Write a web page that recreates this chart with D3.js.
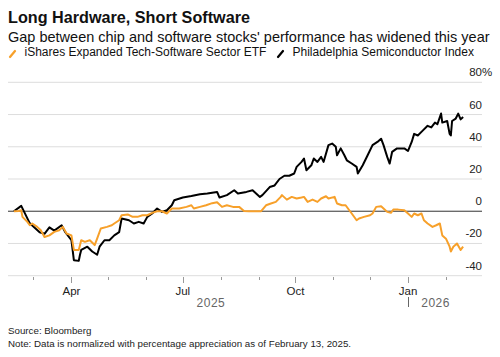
<!DOCTYPE html>
<html>
<head>
<meta charset="utf-8">
<script src="https://cdn.jsdelivr.net/npm/d3@7"></script>
<style>
  body { margin: 0; background: #fff; }
  text { font-family: "Liberation Sans", Arial, sans-serif; }
</style>
</head>
<body>
<svg id="chart" width="500" height="357"></svg>
<script>
// iShares Expanded Tech-Software Sector ETF (orange)
const softDates = ["2025-02-13","2025-02-17","2025-02-19","2025-02-20","2025-02-24","2025-02-26","2025-02-28","2025-03-04","2025-03-07","2025-03-10",
  "2025-03-14","2025-03-18","2025-03-22","2025-03-25","2025-03-28","2025-04-01","2025-04-03","2025-04-07","2025-04-09","2025-04-12",
  "2025-04-16","2025-04-20","2025-04-22","2025-04-25","2025-04-30","2025-05-04","2025-05-06","2025-05-10","2025-05-12","2025-05-17",
  "2025-05-21","2025-05-25","2025-05-29","2025-06-02","2025-06-06","2025-06-10","2025-06-14","2025-06-18","2025-06-22","2025-06-28",
  "2025-07-04","2025-07-08","2025-07-10","2025-07-15","2025-07-20","2025-07-25","2025-07-29","2025-08-02","2025-08-06","2025-08-11",
  "2025-08-16","2025-08-20","2025-08-24","2025-09-03","2025-09-07","2025-09-11","2025-09-15","2025-09-19","2025-09-20","2025-09-24",
  "2025-09-28","2025-10-02","2025-10-06","2025-10-08","2025-10-11","2025-10-15","2025-10-19","2025-10-22","2025-10-26","2025-10-28",
  "2025-11-02","2025-11-04","2025-11-08","2025-11-11","2025-11-14","2025-11-16","2025-11-20","2025-11-22","2025-11-26","2025-12-01",
  "2025-12-03","2025-12-06","2025-12-10","2025-12-12","2025-12-15","2025-12-18","2025-12-20","2025-12-24","2025-12-29","2026-01-01",
  "2026-01-04","2026-01-06","2026-01-09","2026-01-12","2026-01-14","2026-01-17","2026-01-21","2026-01-24","2026-01-27","2026-01-29",
  "2026-02-01","2026-02-04","2026-02-05","2026-02-07","2026-02-10","2026-02-13","2026-02-15"];
const softValues = [0,0.2,0.6,-3.5,-6.6,-8.7,-7.6,-9.7,-11.8,-16,
  -15,-12.8,-11.8,-9.7,-13.8,-15,-24,-24,-18,-19,
  -18,-21,-17,-10.7,-9.7,-8.7,-7.6,-5.6,-2.5,-2,
  -3.5,-3.5,-2.5,-2.5,-1,0,0,-1.4,1.7,1.7,
  2.7,3.7,1.7,2.7,3.7,5,5.6,2.7,3.7,2.7,
  2.7,0.2,0,0,3.7,4.8,5.8,8.9,10,7.2,
  8.9,7.9,8.5,8.9,5.8,7.2,5.8,7.9,9.3,7.9,
  8.9,4.8,3.7,3.7,0.6,-1.4,-5.6,-4.5,-3.5,-2.5,
  -1.4,2.7,3.1,1.7,-0.4,-1,1,1,0.6,-1.4,
  -3.5,-1.4,-2.5,-1.4,-5.6,-7.6,-9.7,-8.7,-7.6,-15,
  -17,-22,-25,-22,-20,-24,-22];

// Philadelphia Semiconductor Index (black)
const chipDates = ["2025-02-13","2025-02-19","2025-02-26","2025-03-06","2025-03-10","2025-03-14","2025-03-18","2025-03-24","2025-03-27","2025-04-01",
  "2025-04-03","2025-04-07","2025-04-08","2025-04-09","2025-04-14","2025-04-18","2025-04-22","2025-04-24","2025-04-28","2025-05-02",
  "2025-05-06","2025-05-10","2025-05-12","2025-05-18","2025-05-22","2025-05-26","2025-05-30","2025-06-02","2025-06-06","2025-06-10",
  "2025-06-14","2025-06-18","2025-06-22","2025-06-24","2025-07-01","2025-07-08","2025-07-15","2025-07-21","2025-07-29","2025-07-31",
  "2025-08-06","2025-08-12","2025-08-15","2025-08-22","2025-08-27","2025-09-02","2025-09-04","2025-09-10","2025-09-14","2025-09-18",
  "2025-09-22","2025-09-26","2025-09-30","2025-10-02","2025-10-06","2025-10-08","2025-10-10","2025-10-14","2025-10-16","2025-10-19",
  "2025-10-22","2025-10-24","2025-10-28","2025-10-31","2025-11-03","2025-11-04","2025-11-07","2025-11-10","2025-11-12","2025-11-16",
  "2025-11-20","2025-11-21","2025-11-25","2025-11-29","2025-12-03","2025-12-07","2025-12-10","2025-12-12","2025-12-15","2025-12-17",
  "2025-12-19","2025-12-23","2025-12-29","2026-01-01","2026-01-04","2026-01-06","2026-01-09","2026-01-13","2026-01-17","2026-01-20",
  "2026-01-23","2026-01-25","2026-01-28","2026-01-29","2026-02-02","2026-02-04","2026-02-05","2026-02-06","2026-02-09","2026-02-11",
  "2026-02-13","2026-02-15"];
const chipValues = [0,3.3,-7.5,-13,-14,-10,-12,-8.7,-13,-18,
  -30.4,-30.8,-27,-24,-22,-25,-27,-22,-18,-18,
  -15,-13,-4.5,-5.6,-7.6,-6.6,-7.6,-3.5,-1.4,1.7,
  -0.4,0.6,3.7,6.8,8.5,9.4,10.5,11,12,8.5,
  10,13,11,12,13,8.9,10,15,16,20,
  22,22,23.4,27.5,30.6,32.7,25.4,28.5,32.7,30.6,
  33.7,30.6,41,42,40,34.7,39,34.7,31.6,29.6,
  27.5,23.4,28.5,34.7,41,43,45,41,33.7,29.6,
  36.8,39,39,37.4,43,48,47,50,53,52,
  55,54,60.6,55,56,48,47,56,57.5,60.6,
  57,58.5];

const yTicks = [-40, -20, 0, 20, 40, 60, 80];
const monthTicks = ["2025-03-01","2025-04-01","2025-05-01","2025-06-01","2025-07-01","2025-08-01","2025-09-01",
  "2025-10-01","2025-11-01","2025-12-01","2026-01-01","2026-02-01"];
const monthLabels = {"2025-04-01": "Apr", "2025-07-01": "Jul", "2025-10-01": "Oct", "2026-01-01": "Jan"};
const yearLabels = [["2025", "2025-02-13", "2026-01-01"], ["2026", "2026-01-01", "2026-02-15"]];

const ORANGE = "#f7a02a";
const parse = d3.timeParse("%Y-%m-%d");
const svg = d3.select("#chart");

svg.append("rect").attr("width", 500).attr("height", 357).attr("fill", "#fff");

const x = d3.scaleTime()
  .domain([parse("2025-02-13"), parse("2026-02-15")])
  .range([13.9, 463.1]);
const y = d3.scaleLinear().domain([-40, 80]).range([275.7, 82.3]);
const gridLeft = 8, gridRight = 482;

// title block
svg.append("text").attr("x", 8).attr("y", 23).attr("font-size", 16.2).attr("font-weight", "bold")
  .attr("fill", "#111").text("Long Hardware, Short Software");
svg.append("text").attr("x", 8).attr("y", 41.5).attr("font-size", 14.5).attr("fill", "#111")
  .text("Gap between chip and software stocks' performance has widened this year");

// legend
const legend = [["iShares Expanded Tech-Software Sector ETF", ORANGE, 9], ["Philadelphia Semiconductor Index", "#000", 277]];
legend.forEach(([label, color, lx]) => {
  svg.append("line").attr("x1", lx + 1).attr("y1", 57).attr("x2", lx + 6).attr("y2", 51)
    .attr("stroke", color).attr("stroke-width", 2.2).attr("stroke-linecap", "round");
  svg.append("text").attr("x", lx + 15.5).attr("y", 56).attr("font-size", 12).attr("fill", "#111").text(label);
});

// gridlines and y labels
yTicks.forEach(t => {
  svg.append("line").attr("x1", gridLeft).attr("x2", gridRight).attr("y1", y(t)).attr("y2", y(t))
    .attr("stroke", t === 0 ? "#333" : "#ddd").attr("stroke-width", 1);
  svg.append("text").attr("x", gridRight).attr("y", y(t) - 6).attr("text-anchor", "end")
    .attr("font-size", 11.5).attr("fill", "#222").text(t);
  if (t === 80) {
    svg.append("text").attr("x", gridRight).attr("y", y(t) - 6).attr("font-size", 11.5)
      .attr("fill", "#222").text("%");
  }
});

// x ticks
const tickTop = 277;
monthTicks.forEach(m => {
  const major = monthLabels[m] !== undefined;
  const tx = Math.round(x(parse(m))) + 0.5;
  svg.append("line").attr("x1", tx).attr("x2", tx).attr("y1", tickTop).attr("y2", major ? 283 : 280)
    .attr("stroke", "#999").attr("stroke-width", 1);
  if (major) {
    svg.append("text").attr("x", x(parse(m))).attr("y", 295).attr("text-anchor", "middle")
      .attr("font-size", 11.5).attr("fill", "#222").text(monthLabels[m]);
  }
});
yearLabels.forEach(([label, a, b]) => {
  svg.append("text").attr("x", (x(parse(a)) + x(parse(b))) / 2).attr("y", 306.5).attr("text-anchor", "middle")
    .attr("font-size", 12).attr("fill", "#666").attr("letter-spacing", 0.5).text(label);
});
const janX = Math.round(x(parse("2026-01-01"))) + 0.5;
svg.append("line").attr("x1", janX).attr("x2", janX).attr("y1", 297).attr("y2", 307)
  .attr("stroke", "#666").attr("stroke-width", 1);

// series lines
const line = d3.line().x(d => x(d[0])).y(d => y(d[1]));
const chip = chipDates.map((d, i) => [parse(d), chipValues[i]]);
const soft = softDates.map((d, i) => [parse(d), softValues[i]]);
svg.append("path").datum(chip).attr("d", line).attr("fill", "none")
  .attr("stroke", "#000").attr("stroke-width", 2).attr("stroke-linejoin", "round");
svg.append("path").datum(soft).attr("d", line).attr("fill", "none")
  .attr("stroke", ORANGE).attr("stroke-width", 2).attr("stroke-linejoin", "round");

// footer
svg.append("text").attr("x", 8).attr("y", 334).attr("font-size", 9.75).attr("fill", "#222").text("Source: Bloomberg");
svg.append("text").attr("x", 8).attr("y", 346.5).attr("font-size", 9.75).attr("fill", "#222")
  .text("Note: Data is normalized with percentage appreciation as of February 13, 2025.");
</script>
</body>
</html>
